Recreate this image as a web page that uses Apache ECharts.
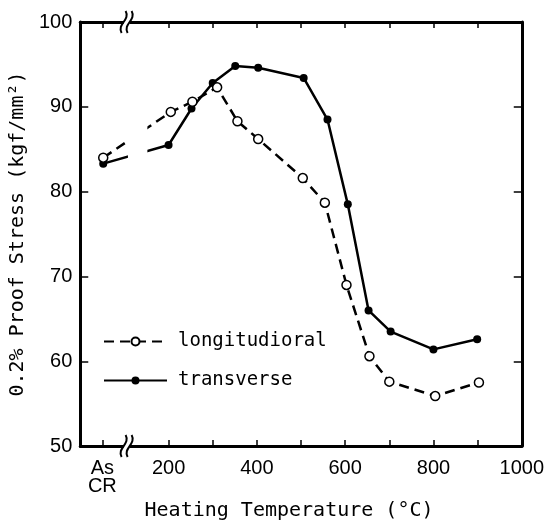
<!DOCTYPE html>
<html>
<head>
<meta charset="utf-8">
<script src="https://cdn.jsdelivr.net/npm/echarts@6/dist/echarts.min.js"></script>
<style>
html, body { margin: 0; padding: 0; background: #fff; }
#main { width: 547px; height: 526px; }
</style>
</head>
<body>
<div id="main"></div>
<script>
// heating temperature (°C) and 0.2% proof stress (kgf/mm2), As CR plotted at 50
var tempLong = [52, 205, 254, 310, 356, 403, 504, 554, 603, 655, 700, 804, 903]
var stressLong = [84.0, 89.4, 90.6, 92.3, 88.3, 86.2, 81.6, 78.7, 69.0, 60.6, 57.6, 55.9, 57.5]
var tempTrans = [52, 200, 252, 300, 351, 403, 506, 560, 606, 653, 703, 800, 899]
var stressTrans = [83.3, 85.5, 89.8, 92.8, 94.8, 94.6, 93.4, 88.5, 78.5, 66.0, 63.5, 61.4, 62.6]

var xTickValues = [50, 200, 300, 400, 500, 600, 700, 800, 900]
var xLabelValues = [50, 200, 400, 600, 800, 1000]
var asCR = 50
var breakAt = 105
var lineGap = [108, 152]

var mono = 'DejaVu Sans Mono'
var sans = 'Liberation Sans'

var pairs = function(xs, ys) {
    var out = []
    for (var i = 0; i < xs.length; i++) {
        out.push([xs[i], ys[i]])
    }
    return out
}

var frameLine = {color: '#000', width: 3}

var xBase = function(pos) {
    return {
        type: 'value',
        position: pos,
        min: 0,
        max: 1000,
        axisLine: {onZero: false, lineStyle: frameLine},
        axisTick: {inside: true, length: 6, customValues: xTickValues, lineStyle: {color: '#000', width: 1.5}},
        splitLine: {show: false},
    }
}

var yBase = function(pos) {
    return {
        type: 'value',
        position: pos,
        min: 50,
        max: 100,
        interval: 10,
        axisLine: {show: true, onZero: false, lineStyle: frameLine},
        axisTick: {show: true, inside: true, length: 8, lineStyle: {color: '#000', width: 1.5}},
        splitLine: {show: false},
    }
}

var xBottom = xBase('bottom')
xBottom.axisLabel = {
    customValues: xLabelValues,
    formatter: function(v) { return v === asCR ? 'As\nCR' : String(v) },
    margin: 13,
    color: '#000',
    fontFamily: sans,
    fontSize: 20,
    lineHeight: 18,
}
xBottom.name = 'Heating Temperature (°C)'
xBottom.nameLocation = 'middle'
xBottom.nameGap = 36
xBottom.nameTextStyle = {fontFamily: mono, fontSize: 20, color: '#000', padding: [8, 24, 0, 0]}

var xTop = xBase('top')
xTop.axisLabel = {show: false}

var yLeft = yBase('left')
yLeft.axisLabel = {margin: 8, color: '#000', fontFamily: sans, fontSize: 20}
yLeft.name = '0.2% Proof Stress (kgf/mm²)'
yLeft.nameLocation = 'middle'
yLeft.nameGap = 34
yLeft.nameTextStyle = {fontFamily: mono, fontSize: 20, color: '#000'}

var yRight = yBase('right')
yRight.axisLabel = {show: false}

// axis break marks and the gap they leave in the curves
var drawBreaks = function(params, api) {
    var g1 = api.coord([lineGap[0], 92])
    var g2 = api.coord([lineGap[1], 80])
    var children = [{
        type: 'rect',
        shape: {x: g1[0], y: g1[1], width: g2[0] - g1[0], height: g2[1] - g1[1]},
        style: {fill: '#fff'},
    }]
    var spots = [api.coord([breakAt, 100]), api.coord([breakAt, 50])]
    spots.forEach(function(p) {
        children.push({
            type: 'rect',
            shape: {x: p[0] - 3, y: p[1] - 3, width: 6, height: 6},
            style: {fill: '#fff'},
        })
        ;[-3, 3].forEach(function(dx) {
            var x = p[0] + dx
            children.push({
                type: 'bezierCurve',
                shape: {
                    x1: x + 2, y1: p[1] - 11, x2: x - 2, y2: p[1] + 11,
                    cpx1: x + 7, cpy1: p[1] - 2, cpx2: x - 7, cpy2: p[1] + 2,
                },
                style: {stroke: '#000', lineWidth: 2, fill: null},
            })
        })
    })
    return {type: 'group', children: children}
}

var element = document.querySelector('#main')
var myChart = echarts.init(element)

var option = {
    animation: false,
    backgroundColor: '#fff',
    grid: {left: 72, right: 11, top: 22, bottom: 56},
    legend: {
        orient: 'vertical',
        left: 98,
        top: 327,
        itemWidth: 63,
        itemHeight: 10,
        itemGap: 20,
        textStyle: {fontFamily: mono, fontSize: 19, color: '#000', padding: [0, 0, 0, 6]},
        data: ['longitudioral', 'transverse'],
    },
    xAxis: [xBottom, xTop],
    yAxis: [yLeft, yRight],
    series: [
        {
            name: 'transverse',
            type: 'line',
            data: pairs(tempTrans, stressTrans),
            symbol: 'circle',
            symbolSize: 8,
            itemStyle: {color: '#000'},
            lineStyle: {color: '#000', width: 2.5},
        },
        {
            name: 'longitudioral',
            type: 'line',
            data: pairs(tempLong, stressLong),
            symbol: 'circle',
            symbolSize: 9,
            itemStyle: {color: '#fff', borderColor: '#000', borderWidth: 1.5},
            lineStyle: {color: '#000', width: 2.5, type: [10, 6]},
            z: 3,
        },
        {
            type: 'custom',
            data: [[breakAt, 50]],
            renderItem: drawBreaks,
            clip: false,
            silent: true,
            z: 4,
        },
    ],
}

myChart.setOption(option)
</script>
</body>
</html>
